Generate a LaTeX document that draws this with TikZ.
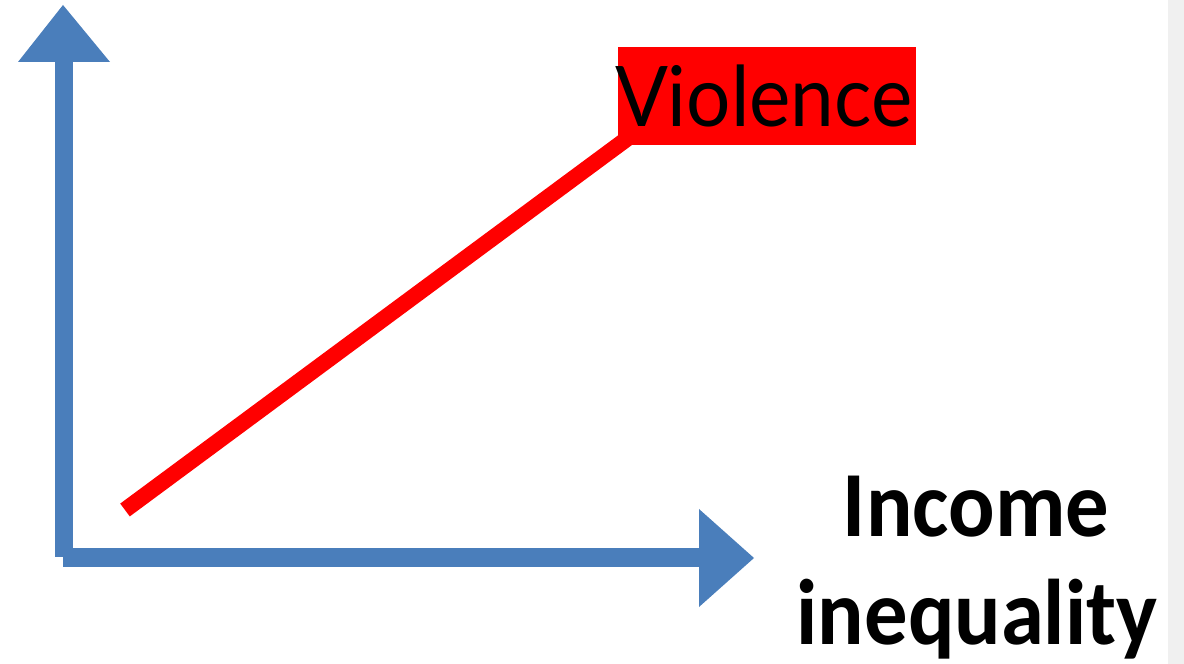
\documentclass[tikz,border=0pt]{standalone}
\usepackage{fontspec}
\newfontfamily\vfont{Lato}
\newfontfamily\cfont{Carlito}
\definecolor{axisblue}{RGB}{74,126,187}
\definecolor{stripgray}{RGB}{240,240,240}
\begin{document}
\begin{tikzpicture}[x=0.01cm,y=-0.01cm,
  axis/.style={fill=axisblue},
  trend/.style={draw=red,line width=0.16cm},
  labelbox/.style={fill=red,inner sep=0pt,minimum width=2.98cm,minimum height=0.98cm,anchor=north west},
  vtext/.style={font=\vfont\fontsize{23.8}{28}\selectfont,text=black,inner sep=0pt},
  itext/.style={font=\cfont\bfseries\fontsize{26.5}{30}\selectfont,text=black,inner sep=0pt,anchor=base}]
\useasboundingbox (0,0) rectangle (1184,664);
\fill[stripgray] (1168,0) rectangle (1184,664);
% axes
\coordinate (ytip) at (63,5);
\coordinate (xtip) at (754,558);
\fill[axis] (55,62) rectangle (73,557);
\fill[axis] (18,62) -- (ytip) -- (110,62) -- cycle;
\fill[axis] (63,548) rectangle (699,567);
\fill[axis] (699,509) -- (xtip) -- (699,607) -- cycle;
% trend line
\coordinate (lstart) at (125,510);
\coordinate (lend) at (628,138);
\draw[trend] (lstart) -- (lend);
\node[labelbox] (vbox) at (617,46) {};
\node[vtext] (vlabel) at ([xshift=-0.03cm]vbox.center) {\scalebox{0.935}[1]{Violence}};
% x label
\node[itext] (inc) at (976,537) {\scalebox{0.93}[1]{Income}};
\node[itext] (ineq) at (977,645) {\scalebox{0.93}[1]{inequality}};
\end{tikzpicture}
\end{document}
